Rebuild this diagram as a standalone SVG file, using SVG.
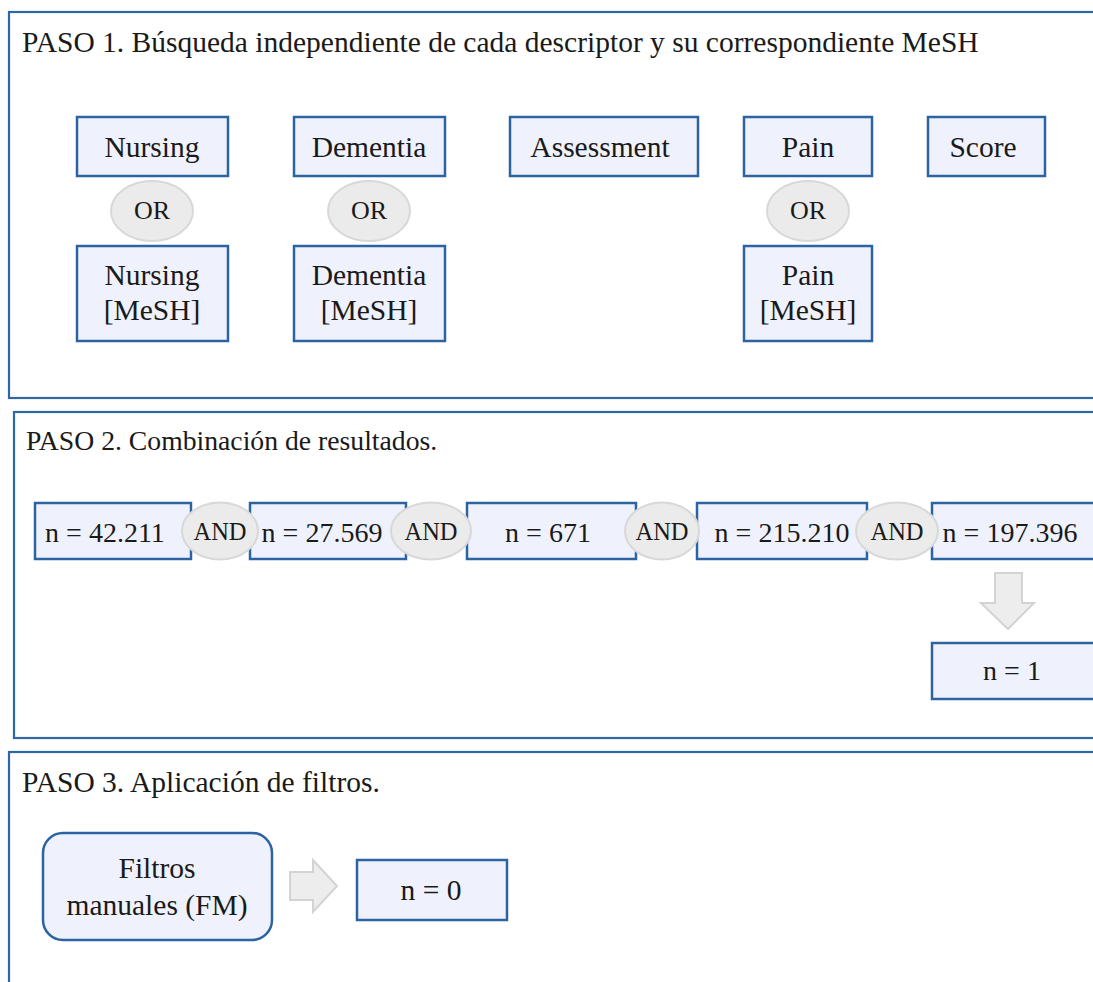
<svg xmlns="http://www.w3.org/2000/svg" width="1093" height="982" viewBox="0 0 1093 982">
  <style>
    text { font-family: "Liberation Serif", "Times New Roman", serif; fill: #1a1a1a; }
    .title { font-size: 29.5px; }
    .title2 { font-size: 27.7px; }
    .lbl { font-size: 29.5px; text-anchor: middle; }
    .num { font-size: 28px; text-anchor: middle; }
    .or { font-size: 26px; text-anchor: middle; }
    .and { font-size: 24.5px; text-anchor: middle; }
    .panel { fill: #ffffff; stroke: #2e67a3; stroke-width: 2.2; }
    .box { fill: #eff2fd; stroke: #2c63a1; stroke-width: 2.5; }
    .oval { fill: #ebebeb; stroke: #d8d8d8; stroke-width: 2; }
    .flow { fill: #ededed; stroke: #d3d3d3; stroke-width: 2; stroke-linejoin: miter; }
  </style>
  <rect width="1093" height="982" fill="#ffffff"/>

  <!-- Step panels -->
  <g id="paso1">
    <rect class="panel" x="9" y="12" width="1100" height="386"/>
    <text class="title" x="22" y="52">PASO 1. Búsqueda independiente de cada descriptor y su correspondiente MeSH</text>
  </g>
  <g id="paso2">
    <rect class="panel" x="14" y="412" width="1100" height="326"/>
    <text class="title2" x="26" y="450">PASO 2. Combinación de resultados.</text>
  </g>
  <g id="paso3">
    <rect class="panel" x="9" y="752" width="1100" height="250"/>
    <text class="title" x="22" y="792">PASO 3. Aplicación de filtros.</text>
  </g>

  <!-- Step 1: descriptors -->
  <g id="nursing">
    <rect class="box" x="77" y="117" width="151" height="59"/>
    <text class="lbl" x="152" y="157">Nursing</text>
  </g>
  <g id="dementia">
    <rect class="box" x="294" y="117" width="151" height="59"/>
    <text class="lbl" x="369" y="157">Dementia</text>
  </g>
  <g id="assessment">
    <rect class="box" x="510" y="117" width="188" height="59"/>
    <text class="lbl" x="600" y="157">Assessment</text>
  </g>
  <g id="pain">
    <rect class="box" x="744" y="117" width="128" height="59"/>
    <text class="lbl" x="808" y="157">Pain</text>
  </g>
  <g id="score">
    <rect class="box" x="928" y="117" width="117" height="59"/>
    <text class="lbl" x="983" y="157">Score</text>
  </g>

  <g id="or-nursing">
    <ellipse class="oval" cx="152" cy="211" rx="41" ry="30"/>
    <text class="or" x="152" y="219">OR</text>
  </g>
  <g id="or-dementia">
    <ellipse class="oval" cx="369" cy="211" rx="41" ry="30"/>
    <text class="or" x="369" y="219">OR</text>
  </g>
  <g id="or-pain">
    <ellipse class="oval" cx="808" cy="211" rx="41" ry="30"/>
    <text class="or" x="808" y="219">OR</text>
  </g>

  <g id="nursing-mesh">
    <rect class="box" x="77" y="246" width="151" height="95"/>
    <text class="lbl" x="152" y="285">Nursing</text>
    <text class="lbl" x="152" y="320">[MeSH]</text>
  </g>
  <g id="dementia-mesh">
    <rect class="box" x="294" y="246" width="151" height="95"/>
    <text class="lbl" x="369" y="285">Dementia</text>
    <text class="lbl" x="369" y="320">[MeSH]</text>
  </g>
  <g id="pain-mesh">
    <rect class="box" x="744" y="246" width="128" height="95"/>
    <text class="lbl" x="808" y="285">Pain</text>
    <text class="lbl" x="808" y="320">[MeSH]</text>
  </g>

  <!-- Step 2: result counts -->
  <g id="r1">
    <rect class="box" x="35" y="503" width="156" height="56"/>
    <text class="num" x="105" y="542">n = 42.211</text>
  </g>
  <g id="r2">
    <rect class="box" x="250" y="503" width="156" height="56"/>
    <text class="num" x="322" y="542">n = 27.569</text>
  </g>
  <g id="r3">
    <rect class="box" x="467" y="503" width="169" height="56"/>
    <text class="num" x="548" y="542">n = 671</text>
  </g>
  <g id="r4">
    <rect class="box" x="697" y="503" width="170" height="56"/>
    <text class="num" x="782" y="542">n = 215.210</text>
  </g>
  <g id="r5">
    <rect class="box" x="932" y="503" width="180" height="56"/>
    <text class="num" x="1010" y="542">n = 197.396</text>
  </g>

  <g id="and1">
    <ellipse class="oval" cx="220" cy="531" rx="38" ry="28.5"/>
    <text class="and" x="220" y="540">AND</text>
  </g>
  <g id="and2">
    <ellipse class="oval" cx="431" cy="531" rx="40" ry="28.5"/>
    <text class="and" x="431" y="540">AND</text>
  </g>
  <g id="and3">
    <ellipse class="oval" cx="662" cy="531" rx="37" ry="28.5"/>
    <text class="and" x="662" y="540">AND</text>
  </g>
  <g id="and4">
    <ellipse class="oval" cx="897" cy="531" rx="41" ry="28.5"/>
    <text class="and" x="897" y="540">AND</text>
  </g>

  <g id="total">
    <rect class="box" x="932" y="643" width="180" height="56"/>
    <text class="num" x="1012" y="680">n = 1</text>
  </g>

  <!-- Step 3: filters -->
  <g id="filtros">
    <rect class="box" x="43" y="833" width="229" height="107" rx="20" ry="20"/>
    <text class="lbl" x="157" y="878">Filtros</text>
    <text class="lbl" x="157" y="915">manuales (FM)</text>
  </g>
  <g id="final">
    <rect class="box" x="357" y="860" width="150" height="60"/>
    <text class="lbl" x="431" y="900">n = 0</text>
  </g>

  <!-- Block arrows -->
  <g id="connectors">
    <path class="flow" d="M995,573 H1022 V603 H1034 L1008,629 L981,603 H995 Z"/>
    <path class="flow" d="M290,872 H313 V860 L337,886 L313,912 V900 H290 Z"/>
  </g>
</svg>
